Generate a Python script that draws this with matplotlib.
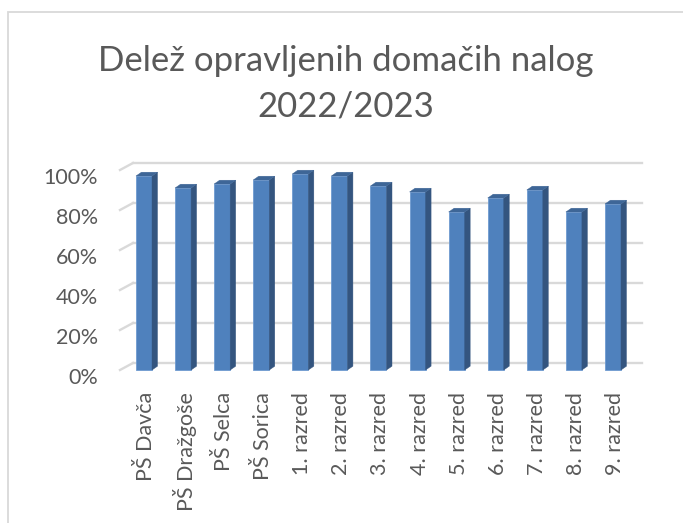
import matplotlib
matplotlib.use("Agg")
import matplotlib.pyplot as plt
from matplotlib.patches import Polygon, Rectangle
from matplotlib.transforms import offset_copy, ScaledTranslation
import numpy as np

categories = ["PŠ Davča", "PŠ Dražgoše", "PŠ Selca", "PŠ Sorica", "1. razred",
              "2. razred", "3. razred", "4. razred", "5. razred", "6. razred",
              "7. razred", "8. razred", "9. razred"]
values = [0.97, 0.91, 0.93, 0.95, 0.98, 0.97, 0.92, 0.89, 0.79, 0.86, 0.90, 0.79, 0.83]
yticks = [0, 0.2, 0.4, 0.6, 0.8, 1.0]
ytick_labels = ["0%", "20%", "40%", "60%", "80%", "100%"]
title = "Delež opravljenih domačih nalog\n2022/2023"

W, H = 683, 523
DPI = 100
fig = plt.figure(figsize=(W / DPI, H / DPI), dpi=DPI)
fig.patch.set_facecolor("white")

TXT = "#595959"
GRID = "#D9D9D9"
FRONT = "#4F81BD"
SIDE = "#34557F"
TOP = "#3E6697"
FONT = ["Lato", "DejaVu Sans"]

# chart border (left & top visible)
fig.patches.append(Rectangle((8 / W, -0.1), 1.2, (H - 12) / H + 0.1, transform=fig.transFigure,
                             fill=False, edgecolor="#D9D9D9", linewidth=1.3))

# axes in front plane pixel coords
left_px, right_px = 120, 629
y0_px, y100_px = 370, 170
ax = fig.add_axes([left_px / W, (H - y0_px) / H, (right_px - left_px) / W, (y0_px - y100_px) / H])
ax.set_facecolor("none")
for s in ax.spines.values():
    s.set_visible(False)

n = len(categories)
x = np.arange(n)
xlim = (-0.614, n - 1 + 0.41)
ax.set_xlim(*xlim)
ax.set_ylim(0, 1)

# back plane offsets (pixels)
bdx, bdy = 13, 7
back = offset_copy(ax.transData, fig=fig, x=bdx, y=bdy, units="dots")
for v in yticks:
    ax.plot([xlim[0], xlim[1]], [v, v], color=GRID, lw=1.7, transform=back, clip_on=False, zorder=0)
    # diagonal floor/side lines
    p0 = ax.transData.transform((xlim[0], v))
    fx = ax.transData.inverted().transform([p0, p0 + np.array([bdx, bdy])])
    ax.plot(fx[:, 0], fx[:, 1], color=GRID, lw=1.7, clip_on=False, zorder=0)

# bars with pseudo-3D faces
bw = 0.41
px_per_x = (right_px - left_px) / (xlim[1] - xlim[0])
px_per_y = (y0_px - y100_px)
ddx = 5.5 / px_per_x
ddy = 3.8 / px_per_y
ax.bar(x, values, width=bw, color=FRONT, edgecolor="#6F9BD0", linewidth=0.6, zorder=3, clip_on=False)
for xi, v in zip(x, values):
    xl, xr = xi - bw / 2, xi + bw / 2
    side = Polygon([(xr, 0), (xr, v), (xr + ddx, v + ddy), (xr + ddx, ddy)],
                   closed=True, facecolor=SIDE, edgecolor=SIDE, lw=0.3, zorder=3, clip_on=False)
    top = Polygon([(xl, v), (xr, v), (xr + ddx, v + ddy), (xl + ddx, v + ddy)],
                  closed=True, facecolor=TOP, edgecolor=TOP, lw=0.3, zorder=3, clip_on=False)
    ax.add_patch(side)
    ax.add_patch(top)

ax.set_yticks(yticks)
ax.set_yticklabels(ytick_labels)
ax.set_xticks(x)
ax.set_xticklabels(categories, rotation=90, va="top", ha="center")
ax.tick_params(axis="both", length=0, colors=TXT, labelsize=15.5)
ax.tick_params(axis="y", pad=16)
ax.tick_params(axis="x", pad=16)
for lab in ax.get_yticklabels() + ax.get_xticklabels():
    lab.set_fontfamily(FONT)
for lab in ax.get_yticklabels():
    lab.set_transform(lab.get_transform() + ScaledTranslation(0, -6.5 / DPI, fig.dpi_scale_trans))
for lab in ax.get_xticklabels():
    lab.set_transform(lab.get_transform() + ScaledTranslation(2 / DPI, 0, fig.dpi_scale_trans))

fig.text(0.5 * (8 + W) / W, 1 - 45 / H, title, ha="center", va="top", fontsize=25,
         color=TXT, family=FONT, fontweight="normal", linespacing=1.5, multialignment="center")

fig.savefig("out.png", dpi=DPI, facecolor="white")
